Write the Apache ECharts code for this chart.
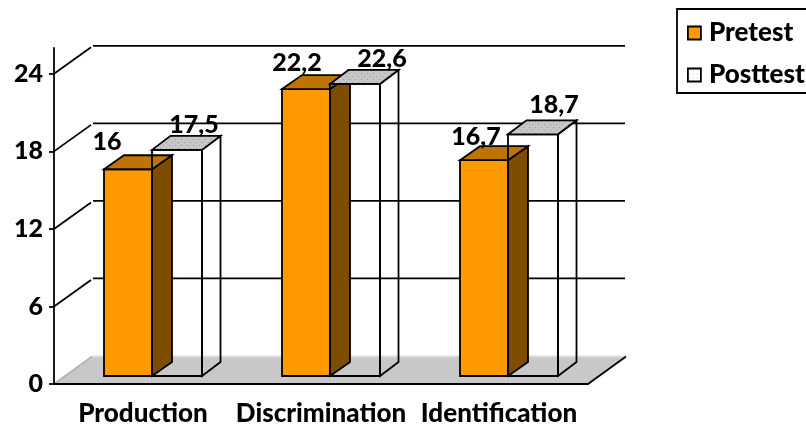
<!DOCTYPE html>
<html>
<head>
<meta charset="utf-8">
<style>html,body{margin:0;padding:0;background:#fff}#chart{width:806px;height:428px}</style>
<script src="https://cdn.jsdelivr.net/npm/echarts@6/dist/echarts.min.js"></script>
</head>
<body>
<div id="chart"></div>
<script>
const categories = ['Production', 'Discrimination', 'Identification'];
const pretest = [16, 22.2, 16.7];
const posttest = [17.5, 22.6, 18.7];
const yTicks = [0, 6, 12, 18, 24];

// Label nudges in pixels, relative to the front-left corner of each bar top
const pretestLabelNudge = [[3, -27], [15, -26], [16, -23]];
const posttestLabelNudge = [[42, -25], [52, -25], [46, -29]];

const FONT = 'Lato, sans-serif';
const WEIGHT = 900;
const WORD_SIZE = 26;
const NUMBER_SIZE = 25;
const LINE = 1.8;
const WALL = { dx: 38, dy: -27.5 };        // depth of the whole plot floor
const BAR_DY = -14;                        // rise of one box's depth edge
const BASE_LIFT = -8;                      // bar fronts stand slightly into the floor

function stipple() {
  const c = document.createElement('canvas');
  c.width = c.height = 6;
  const g = c.getContext('2d');
  g.fillStyle = '#c6c6c6';
  g.fillRect(0, 0, 6, 6);
  g.fillStyle = '#9c9c9c';
  g.fillRect(1, 1, 1, 1);
  g.fillRect(4, 4, 1, 1);
  return { image: c, repeat: 'repeat' };
}
function lightStipple() {
  const c = document.createElement('canvas');
  c.width = c.height = 4;
  const g = c.getContext('2d');
  g.fillStyle = '#fff';
  g.fillRect(0, 0, 4, 4);
  g.fillStyle = '#c8c8c8';
  g.fillRect(1, 1, 1, 1);
  return { image: c, repeat: 'repeat' };
}

// Floor and receding gridlines, driven by the y tick values
function renderWall(params, api) {
  const v = api.value(0);
  const rect = params.coordSys;
  const [, y] = api.coord([0, v]);
  const xl = rect.x, xr = rect.x + rect.width;
  const line = (x1, y1, x2, y2, stroke) => ({
    type: 'line',
    shape: { x1, y1, x2, y2 },
    style: { stroke: stroke || '#000', lineWidth: LINE }
  });
  if (v === 0) {
    return {
      type: 'group',
      children: [
        {
          type: 'polygon',
          shape: { points: [[xl, y], [xl + WALL.dx, y + WALL.dy], [xr + WALL.dx, y + WALL.dy], [xr, y]] },
          style: { fill: '#c8c8c8' }
        },
        line(xl + WALL.dx + 1, y + WALL.dy, xr + WALL.dx, y + WALL.dy, '#dcdcdc'),
        line(xl, y, xl + WALL.dx, y + WALL.dy, '#b4b4b4'),
        line(xr, y, xr + WALL.dx, y + WALL.dy)
      ]
    };
  }
  return {
    type: 'group',
    children: [
      line(xl, y, xl + WALL.dx - 1, y + WALL.dy + 1),
      line(xl + WALL.dx + 1, y + WALL.dy - 0.5, xr + WALL.dx - 1, y + WALL.dy - 0.5)
    ]
  };
}

// One box per point. from/to are fractions of the category band around its centre.
function boxRenderer(opts) {
  return function (params, api) {
    const i = api.value(0);
    const v = api.value(1);
    const band = api.size([1, 0])[0];
    const [cx, topY0] = api.coord([i, v]);
    const [, baseY0] = api.coord([i, 0]);
    const xa = cx + opts.from * band;
    const xb = cx + opts.to * band;
    const top = topY0 + BASE_LIFT;
    const base = baseY0 + BASE_LIFT;
    const dx = opts.depth;
    const sk = { stroke: '#000', lineWidth: LINE, lineJoin: 'miter' };
    const nudge = opts.nudge[params.dataIndex];
    return {
      type: 'group',
      children: [
        {
          type: 'polygon',
          shape: { points: [[xa, base], [xb, base], [xb, top], [xa, top]] },
          style: Object.assign({ fill: opts.front }, sk)
        },
        {
          type: 'polygon',
          shape: { points: [[xb, base], [xb + dx, base + BAR_DY], [xb + dx, top + BAR_DY], [xb, top]] },
          style: Object.assign({ fill: opts.side }, sk)
        },
        {
          type: 'polygon',
          shape: { points: [[xa, top], [xa + dx, top + BAR_DY], [xb + dx, top + BAR_DY], [xb, top]] },
          style: Object.assign({ fill: opts.top }, sk)
        },
        {
          type: 'text',
          style: {
            x: xa + nudge[0],
            y: top + nudge[1],
            text: String(v).replace('.', ','),
            font: WEIGHT + ' ' + NUMBER_SIZE + 'px ' + FONT,
            fill: '#000',
            align: 'center',
            verticalAlign: 'middle'
          }
        }
      ]
    };
  };
}

const chart = echarts.init(document.getElementById('chart'), null, { renderer: 'canvas' });
chart.setOption({
  animation: false,
  backgroundColor: '#fff',
  grid: { left: 54, top: 48, width: 534, height: 336 },
  legend: {
    left: 677,
    top: 9,
    orient: 'vertical',
    itemWidth: 13,
    itemHeight: 13,
    itemGap: 16,
    padding: [11, 40, 5, 10],
    borderColor: '#000',
    borderWidth: LINE,
    backgroundColor: '#fff',
    selectedMode: false,
    textStyle: { fontFamily: FONT, fontWeight: WEIGHT, fontSize: WORD_SIZE, color: '#000', padding: [0, 0, 0, 3] },
    data: [
      { name: 'Pretest', icon: 'rect', itemStyle: { color: '#ff9900', borderColor: '#000', borderWidth: LINE } },
      { name: 'Posttest', icon: 'rect', itemStyle: { color: lightStipple(), borderColor: '#000', borderWidth: LINE } }
    ]
  },
  xAxis: {
    type: 'category',
    data: categories,
    z: 5,
    axisLine: { lineStyle: { color: '#000', width: LINE } },
    axisTick: { length: 5, lineStyle: { color: '#000', width: LINE } },
    axisLabel: { interval: 0, hideOverlap: false, color: '#000', fontFamily: FONT, fontWeight: WEIGHT, fontSize: WORD_SIZE, margin: 17 }
  },
  yAxis: {
    type: 'value',
    min: 0,
    max: 26,
    interval: 6,
    z: 5,
    splitLine: { show: false },
    axisLine: { show: true, lineStyle: { color: '#000', width: LINE } },
    axisTick: { show: true, length: 5, customValues: yTicks, lineStyle: { color: '#000', width: LINE } },
    axisLabel: { color: '#000', fontFamily: FONT, fontWeight: WEIGHT, fontSize: NUMBER_SIZE, margin: 11, customValues: yTicks }
  },
  series: [
    {
      name: 'wall',
      type: 'custom',
      silent: true,
      z: 1,
      clip: false,
      coordinateSystem: 'cartesian2d',
      encode: { x: 1, y: 0 },
      renderItem: renderWall,
      data: yTicks.map(t => [t, 0])
    },
    {
      name: 'Pretest',
      type: 'custom',
      z: 2,
      clip: false,
      encode: { x: 0, y: 1 },
      renderItem: boxRenderer({
        from: -39 / 178, to: 9 / 178, depth: 20,
        front: '#ff9900', side: '#7f4d00', top: '#bf7300',
        nudge: pretestLabelNudge
      }),
      data: pretest.map((v, i) => [i, v])
    },
    {
      name: 'Posttest',
      type: 'custom',
      z: 3,
      clip: false,
      encode: { x: 0, y: 1 },
      renderItem: boxRenderer({
        from: 9 / 178, to: 59 / 178, depth: 18.5,
        front: 'transparent', side: 'transparent', top: stipple(),
        nudge: posttestLabelNudge
      }),
      data: posttest.map((v, i) => [i, v])
    }
  ]
});
</script>
</body>
</html>
